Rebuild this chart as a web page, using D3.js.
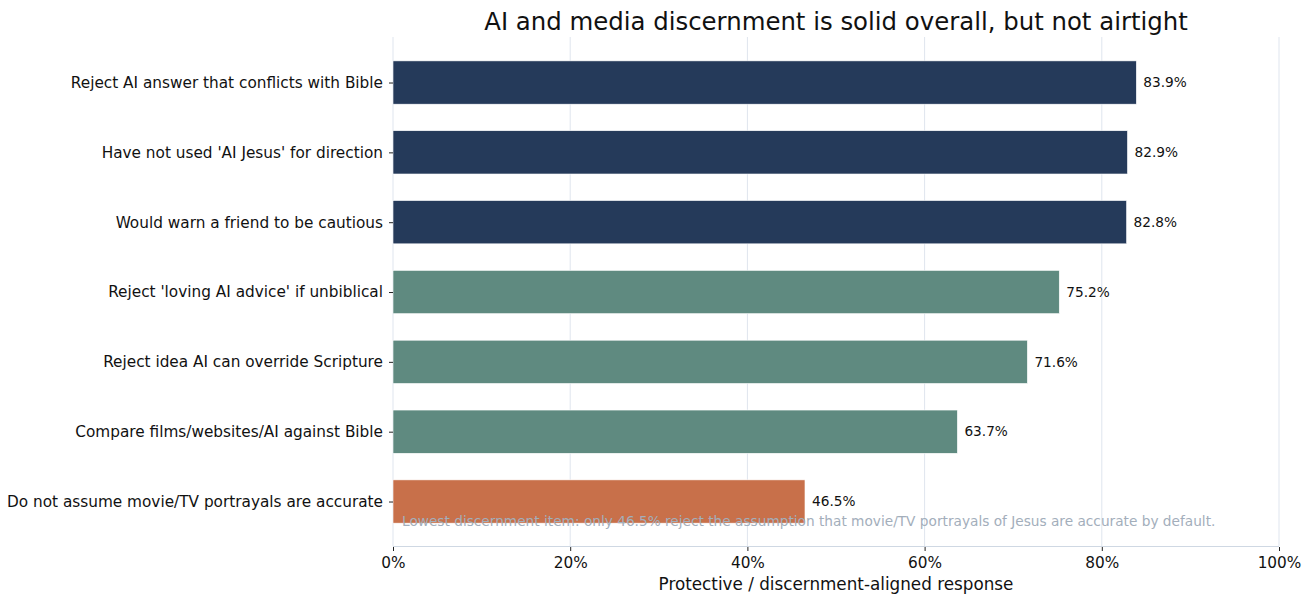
<!DOCTYPE html>
<html>
<head>
<meta charset="utf-8">
<script src="https://cdn.jsdelivr.net/npm/d3@7"></script>
<style>
  html, body { margin: 0; padding: 0; background: #ffffff; }
  svg { display: block; font-family: "DejaVu Sans", sans-serif; }
</style>
</head>
<body>
<svg id="chart" width="1312" height="596"></svg>
<script>
// Survey items, top to bottom, with share of protective / discernment-aligned responses (%)
const categories = [
  "Reject AI answer that conflicts with Bible",
  "Have not used 'AI Jesus' for direction",
  "Would warn a friend to be cautious",
  "Reject 'loving AI advice' if unbiblical",
  "Reject idea AI can override Scripture",
  "Compare films/websites/AI against Bible",
  "Do not assume movie/TV portrayals are accurate"
];
const values = [83.9, 82.9, 82.8, 75.2, 71.6, 63.7, 46.5];
const groups = ["strong", "strong", "strong", "moderate", "moderate", "moderate", "weak"];
const xTicks = [0, 20, 40, 60, 80, 100];
const xTickLabels = ["0%", "20%", "40%", "60%", "80%", "100%"];

const titleText = "AI and media discernment is solid overall, but not airtight";
const xLabelText = "Protective / discernment-aligned response";
const noteText = "Lowest discernment item: only 46.5% reject the assumption that movie/TV portrayals of Jesus are accurate by default.";

const groupColor = { strong: "#253a5a", moderate: "#5f8a80", weak: "#c8704a" };

const svg = d3.select("#chart");
const plot = { left: 393, right: 1279, top: 37, bottom: 546 };

const x = d3.scaleLinear().domain([0, 100]).range([plot.left, plot.right]);
// Row positions: item 0 at the top, in row units
const n = categories.length;
const barH = 0.62;
const yPos = d3.scaleLinear()
  .domain([-0.652, (n - 1) + 0.637])
  .range([plot.top, plot.bottom]);
const rowY = i => yPos(i);
const barPx = yPos(barH) - yPos(0);

// Vertical gridlines
svg.append("g")
  .selectAll("line")
  .data(xTicks)
  .join("line")
  .attr("x1", d => x(d)).attr("x2", d => x(d))
  .attr("y1", plot.top).attr("y2", plot.bottom)
  .attr("stroke", "#dfe5ee")
  .attr("stroke-width", 1);

// Bars
svg.append("g")
  .selectAll("rect")
  .data(values)
  .join("rect")
  .attr("x", x(0))
  .attr("y", (d, i) => rowY(i) - barPx / 2)
  .attr("width", d => x(d) - x(0))
  .attr("height", barPx)
  .attr("fill", (d, i) => groupColor[groups[i]])
  .attr("stroke", "#ffffff")
  .attr("stroke-width", 0.6);

// Value labels
svg.append("g")
  .selectAll("text")
  .data(values)
  .join("text")
  .attr("x", d => x(d) + 7)
  .attr("y", (d, i) => rowY(i))
  .attr("dy", "0.35em")
  .attr("font-size", 13.7)
  .attr("fill", "#111111")
  .text(d => d.toFixed(1) + "%");

// Bottom spine
svg.append("line")
  .attr("x1", plot.left).attr("x2", plot.right)
  .attr("y1", plot.bottom + 0.5).attr("y2", plot.bottom + 0.5)
  .attr("stroke", "#cfd8e3")
  .attr("stroke-width", 1.2);

// X axis ticks and labels
const xAxis = d3.axisBottom(x)
  .tickValues(xTicks)
  .tickFormat((d, i) => xTickLabels[i])
  .tickSize(4)
  .tickPadding(6);
const gx = svg.append("g")
  .attr("transform", `translate(0,${plot.bottom + 1})`)
  .call(xAxis);
gx.select(".domain").remove();
gx.selectAll(".tick line").attr("stroke", "#222222").attr("stroke-width", 1);
gx.selectAll(".tick text")
  .attr("font-family", "DejaVu Sans, sans-serif")
  .attr("font-size", 15.3)
  .attr("fill", "#111111");

// Y axis ticks and category labels
const yBand = d3.scaleOrdinal().domain(categories).range(categories.map((c, i) => rowY(i)));
const yAxis = d3.axisLeft(yBand)
  .tickSize(4)
  .tickPadding(6);
const gy = svg.append("g")
  .attr("transform", `translate(${plot.left},0)`)
  .call(yAxis);
gy.select(".domain").remove();
gy.selectAll(".tick line").attr("stroke", "#222222").attr("stroke-width", 1);
gy.selectAll(".tick text")
  .attr("font-family", "DejaVu Sans, sans-serif")
  .attr("font-size", 15.3)
  .attr("fill", "#111111");

// Title
svg.append("text")
  .attr("x", (plot.left + plot.right) / 2)
  .attr("y", 29.5)
  .attr("text-anchor", "middle")
  .attr("font-size", 24.4)
  .attr("fill", "#111111")
  .text(titleText);

// X axis label
svg.append("text")
  .attr("x", (plot.left + plot.right) / 2)
  .attr("y", 590)
  .attr("text-anchor", "middle")
  .attr("font-size", 16.8)
  .attr("fill", "#111111")
  .text(xLabelText);

// Footnote inside the plot area
svg.append("text")
  .attr("x", x(0) + 9)
  .attr("y", 521)
  .attr("dy", "0.35em")
  .attr("font-size", 13.7)
  .attr("fill", "#a3aebb")
  .text(noteText);
</script>
</body>
</html>
